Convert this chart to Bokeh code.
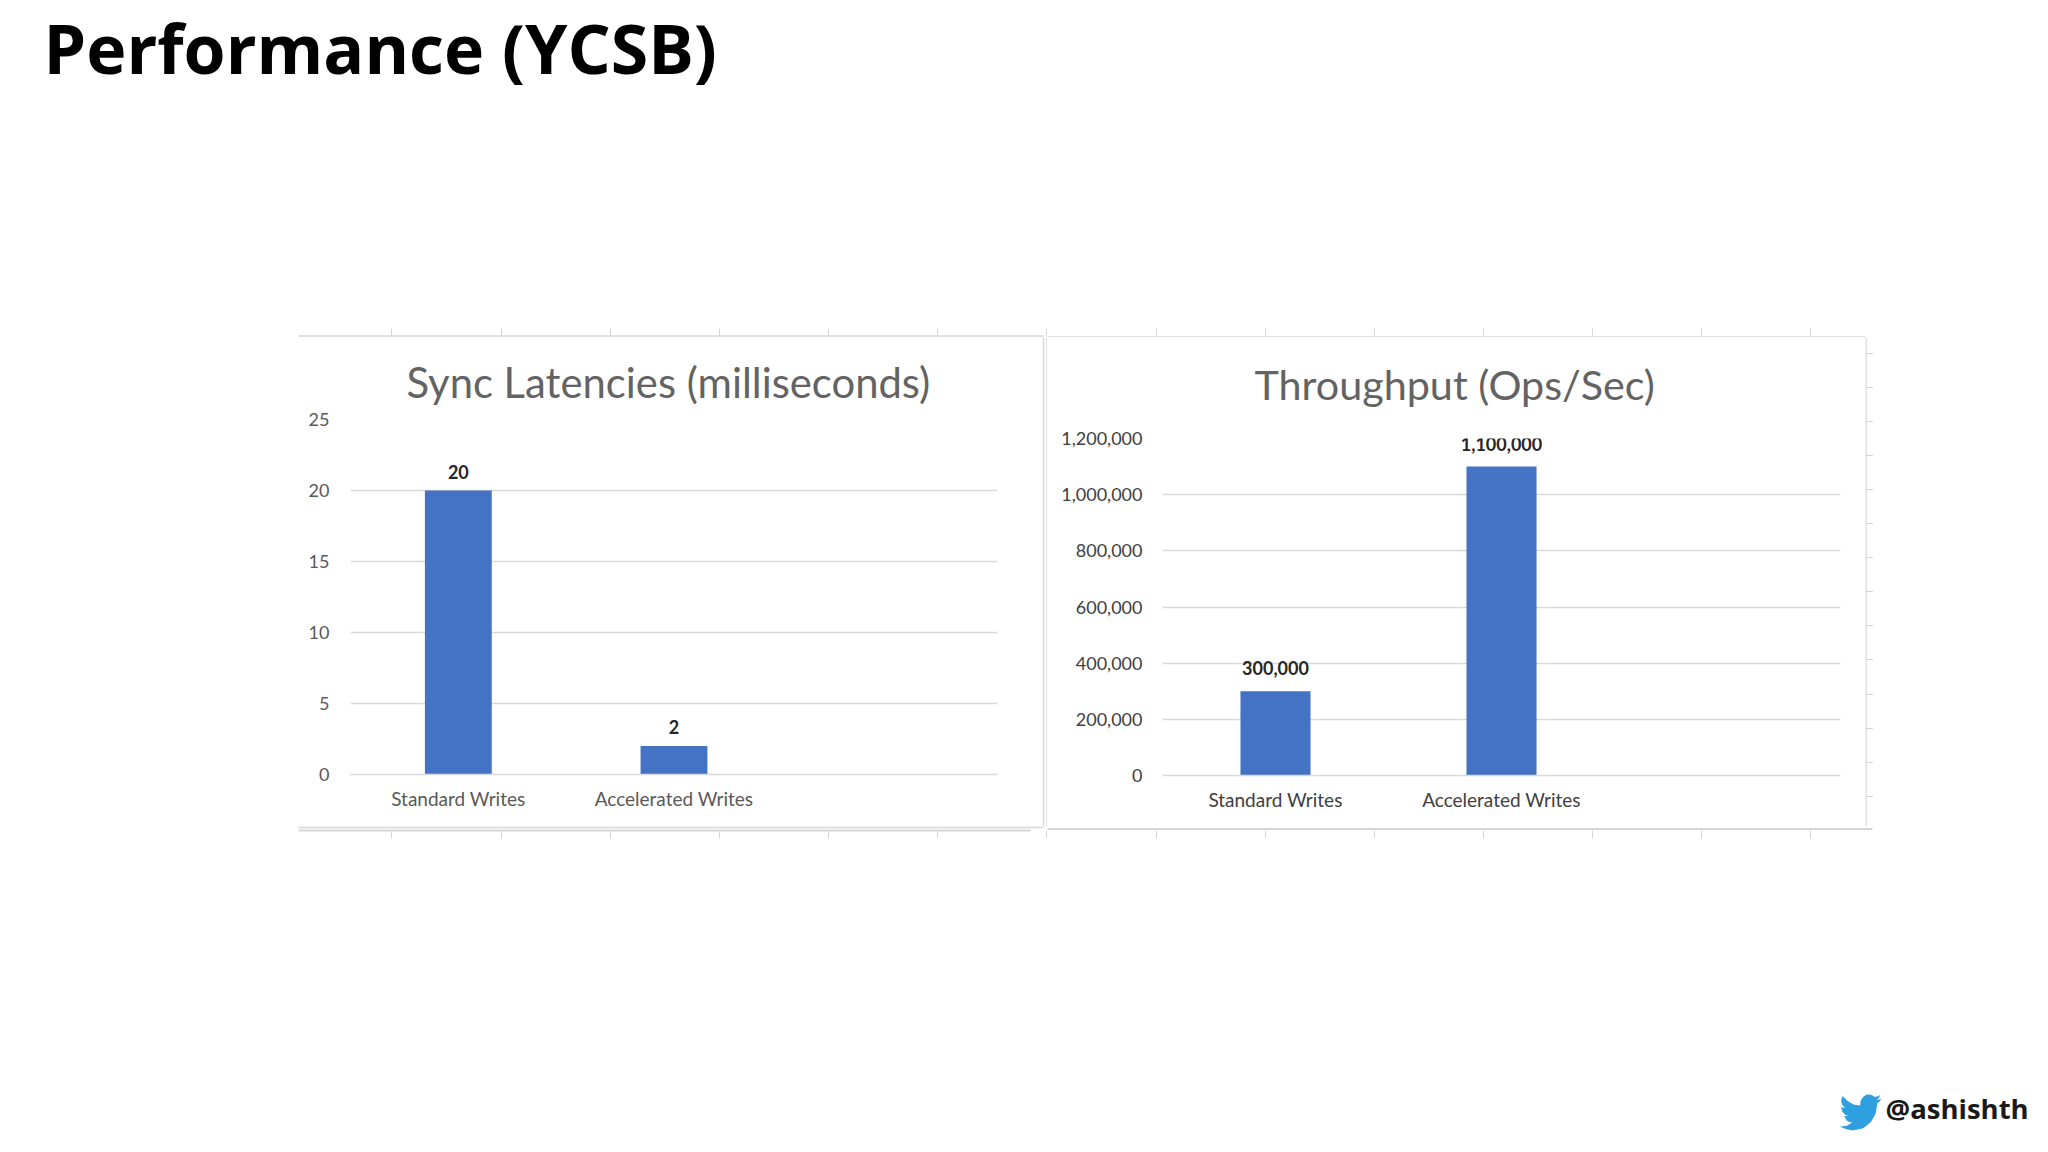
import numpy as np
from bokeh.embed import file_html
from bokeh.resources import INLINE
from bokeh.plotting import figure
from bokeh.layouts import column, row
from bokeh.models import (ColumnDataSource, FactorRange, Range1d, Spacer,
                          NumeralTickFormatter, FixedTicker)
from bokeh.core.properties import value

# ---- data ----
categories = ["Standard Writes", "Accelerated Writes", " "]
latency_values = [20, 2]
throughput_values = [300000, 1100000]
latency_ticks = [0, 5, 10, 15, 20, 25]
throughput_ticks = [0, 200000, 400000, 600000, 800000, 1000000, 1200000]
page_title = "Performance (YCSB)"
latency_title = "Sync Latencies (milliseconds)"
throughput_title = "Throughput (Ops/Sec)"
handle = "@ashishth"

BLUE = "#4472c4"
GRID = "#d9d9d9"
EDGE = "#d6d6d6"
FONT = "Lato"


def canvas(w, h, x0, x1, y0, y1):
    """Borderless figure whose data units are page pixels (for decoration)."""
    f = figure(width=w, height=h, x_range=Range1d(x0, x1), y_range=Range1d(y1, y0),
               toolbar_location=None, output_backend="svg", min_border=0,
               outline_line_color=None, frame_align=False)
    f.axis.visible = False
    f.grid.visible = False
    return f


def chart(title, vals, ticks, ymax, fw, fh, left, right, top, bottom, offset, txt,
          label_off, title_size, title_standoff, tick_standoff, fmt=None, margin=None):
    f = figure(x_range=FactorRange(*categories, range_padding=0, factor_padding=0),
               y_range=Range1d(0, ymax), frame_width=fw, frame_height=fh,
               min_border_left=left, min_border_right=right,
               min_border_top=top, min_border_bottom=bottom,
               toolbar_location=None, output_backend="svg", frame_align=False,
               outline_line_color=None, title=title, margin=margin,
               border_fill_alpha=0, background_fill_alpha=0)
    f.title.text_font = FONT
    f.title.text_font_size = title_size
    f.title.text_font_style = "normal"
    f.title.text_color = "#636363"
    f.title.align = "left"
    f.title.offset = offset
    f.title.standoff = title_standoff
    f.xgrid.visible = False
    f.ygrid.grid_line_color = GRID
    f.ygrid.grid_line_width = 1.6
    f.yaxis.ticker = FixedTicker(ticks=ticks)
    if fmt:
        f.yaxis.formatter = NumeralTickFormatter(format=fmt)
    f.yaxis.axis_line_color = None
    f.yaxis.major_tick_line_color = None
    f.yaxis.minor_tick_line_color = None
    f.yaxis.major_label_standoff = tick_standoff
    f.xaxis.axis_line_color = GRID
    f.xaxis.axis_line_width = 1.6
    f.xaxis.major_tick_line_color = None
    f.xaxis.minor_tick_line_color = None
    f.xaxis.major_label_standoff = 6
    f.xaxis.major_label_orientation = "horizontal"
    f.yaxis[0].major_label_text_font = FONT
    f.yaxis[0].major_label_text_font_size = "18px"
    f.yaxis[0].major_label_text_color = txt
    f.xaxis[0].major_label_text_font = FONT
    f.xaxis[0].major_label_text_font_size = "19px"
    f.xaxis[0].major_label_text_color = txt
    src = ColumnDataSource(dict(x=categories[:2], v=vals,
                                t=[f"{v:,}" for v in vals]))
    f.vbar(x="x", top="v", width=0.31, source=src, fill_color=BLUE, line_color=None)
    f.text(x="x", y="v", text="t", source=src, text_align="center",
           text_baseline="middle", y_offset=label_off, text_font=value(FONT),
           text_font_style="bold", text_font_size="18px", text_color="#262626")
    return f


# ---- header: page title and the sheet's ticks above the panels ----
header = canvas(2040, 337, 8, 2048, 0, 337)
header.text(x=[43], y=[47], text=[page_title], text_font=value("Open Sans"),
            text_font_style="bold", text_font_size="68px", text_color="#000000",
            text_baseline="middle")
top_ticks = [391, 501, 610, 719, 828, 937, 1046, 1156, 1265, 1374, 1483, 1592, 1701, 1810]
header.segment(top_ticks, [328] * 14, top_ticks, [336] * 14, line_color=EDGE, line_width=1)
header.segment([298, 1047], [335.5, 336.5], [1043, 1865], [335.5, 336.5],
               line_color=EDGE, line_width=1.5)

# ---- the two charts ----
left = chart(latency_title, latency_values, latency_ticks, 25, 647, 355, 53, 45, 82, 52,
             56, "#595959", -19, "41.8px", 25, 15)
right = chart(throughput_title, throughput_values, throughput_ticks, 1200000, 678, 337,
              115, 25, 112, 51, 92, "#404040", -23, "41.3px", 60, 14, "0,0",
              margin=(-11, 0, 0, 0))

sep = canvas(5, 489, 1042, 1047, 337, 826)
sep.segment([1043, 1046.5], [337, 337], [1043, 1046.5], [826, 826], line_color=EDGE, line_width=1.5)

side = canvas(8, 489, 1865, 1873, 337, 826)
side.segment([1865.5], [337], [1865.5], [826], line_color=EDGE, line_width=1.5)
side_ticks = [353, 387, 421, 455, 489, 523, 557, 591, 625, 659, 694, 728, 762, 796]
side.segment([1865] * 14, side_ticks, [1873] * 14, side_ticks, line_color=EDGE, line_width=1)

# ---- footer: lower sheet edge, bird and handle ----
footer = canvas(2040, 326, 8, 2048, 826, 1152)
footer.segment([298, 298, 1047], [826.8, 830, 828.5], [1043, 1030, 1872], [826.8, 830, 828.5],
               line_color=EDGE, line_width=1.8)
footer.segment(top_ticks, [830] * 14, top_ticks, [838] * 14, line_color=EDGE, line_width=1)
bird_u = np.array([23.95, 22.6, 21.13, 22.4, 23.29, 21.8, 20.16, 18.9, 17.2, 15.2, 13.4, 12.1,
                   11.78, 8.5, 5, 1.64, 0.97, 1.4, 3.16, 0.93, 1.5, 3, 4.88, 2.66, 4, 5.5, 7.27,
                   4.5, 1.17, 0, 3.5, 7.56, 13.56, 17.95, 20.63, 21.55, 21.53, 23])
bird_v = np.array([4.57, 5.1, 5.35, 4.4, 2.62, 3.3, 3.81, 2.9, 2.4, 2.6, 3.9, 5.7,
                   8.29, 7.9, 6.2, 3.16, 5.64, 7.6, 9.73, 9.12, 11.4, 13.2, 14.0, 14.09, 16.2,
                   17.2, 17.51, 19, 19.61, 19.54, 21, 21.75, 20.48, 17.19, 12.69, 7.77, 7.14, 6])
footer.patch(1839 + bird_u * 1.75, 1094 + (bird_v - 2.4) * 1.86, fill_color="#2e9fdf",
             line_color=None)
footer.text(x=[1885], y=[1108], text=[handle], text_font=value("Open Sans"),
            text_font_style="bold", text_font_size="27.5px", text_color="#1a1a1a",
            text_baseline="middle")

page = column(header,
              row(Spacer(width=289, height=489), left, sep, right, side, spacing=0),
              footer, spacing=0, margin=(0, 0, 0, 8))
open("out.html", "w").write(file_html(page, INLINE))
